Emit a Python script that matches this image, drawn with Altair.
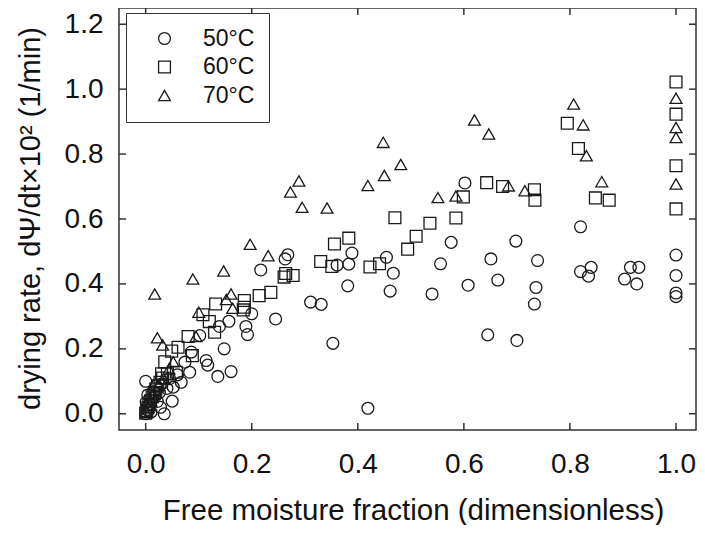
import altair as alt
import pandas as pd

series = ["50°C", "60°C", "70°C"]
shapes = ["circle", "square", "triangle-up"]

x50 = [0.000, 0.003, 0.006, 0.001, 0.008, 0.012, 0.004, 0.015, 0.018, 0.022, 0.000, 0.020,
       0.026, 0.030, 0.035, 0.040, 0.050, 0.052, 0.045, 0.067, 0.060, 0.083, 0.074, 0.086,
       0.010, 0.028, 0.102, 0.114, 0.117, 0.136, 0.161, 0.148, 0.139, 0.157, 0.189, 0.192,
       0.200, 0.245, 0.217, 0.263, 0.268, 0.311, 0.331, 0.353, 0.361, 0.383, 0.389, 0.381,
       0.419, 0.454, 0.467, 0.461, 0.540, 0.556, 0.576, 0.602, 0.608, 0.651, 0.664, 0.645,
       0.698, 0.700, 0.739, 0.736, 0.733, 0.820, 0.820, 0.840, 0.835, 0.903, 0.914, 0.930,
       0.926, 1.000, 1.000, 1.000, 1.000]
y50 = [0.000, 0.012, 0.022, 0.036, 0.032, 0.048, 0.058, 0.068, 0.055, 0.038, 0.100, 0.086,
       0.066, 0.092, 0.000, 0.078, 0.039, 0.082, 0.108, 0.097, 0.120, 0.128, 0.159, 0.190,
       0.005, 0.020, 0.241, 0.164, 0.150, 0.115, 0.130, 0.200, 0.269, 0.285, 0.269, 0.244,
       0.308, 0.292, 0.443, 0.477, 0.490, 0.344, 0.337, 0.217, 0.458, 0.461, 0.495, 0.394,
       0.017, 0.482, 0.433, 0.378, 0.369, 0.462, 0.528, 0.711, 0.396, 0.477, 0.412, 0.243,
       0.532, 0.226, 0.472, 0.389, 0.338, 0.576, 0.438, 0.451, 0.424, 0.415, 0.451, 0.451,
       0.400, 0.489, 0.426, 0.372, 0.361]

x60 = [0.000, 0.002, 0.004, 0.006, 0.009, 0.012, 0.016, 0.019, 0.023, 0.027, 0.032, 0.030,
       0.036, 0.041, 0.049, 0.058, 0.061, 0.080, 0.088, 0.108, 0.120, 0.130, 0.132, 0.186,
       0.186, 0.184, 0.214, 0.236, 0.261, 0.264, 0.278, 0.330, 0.351, 0.356, 0.383, 0.423,
       0.441, 0.470, 0.494, 0.510, 0.536, 0.585, 0.599, 0.643, 0.673, 0.733, 0.734, 0.795,
       0.816, 0.848, 0.874, 1.000, 1.000, 1.000, 1.000]
y60 = [0.002, 0.010, 0.018, 0.028, 0.040, 0.052, 0.063, 0.076, 0.086, 0.097, 0.110, 0.123,
       0.160, 0.123, 0.193, 0.128, 0.205, 0.238, 0.179, 0.305, 0.284, 0.251, 0.338, 0.349,
       0.328, 0.320, 0.364, 0.374, 0.421, 0.432, 0.426, 0.469, 0.454, 0.523, 0.541, 0.452,
       0.462, 0.604, 0.507, 0.547, 0.587, 0.603, 0.668, 0.712, 0.700, 0.690, 0.658, 0.895,
       0.817, 0.665, 0.658, 1.022, 0.923, 0.764, 0.631]

x70 = [0.001, 0.005, 0.010, 0.015, 0.024, 0.034, 0.044, 0.052, 0.017, 0.022, 0.032, 0.089,
       0.095, 0.100, 0.147, 0.152, 0.161, 0.164, 0.197, 0.231, 0.273, 0.289, 0.295, 0.342,
       0.419, 0.450, 0.448, 0.481, 0.551, 0.585, 0.620, 0.647, 0.684, 0.715, 0.807, 0.825,
       0.831, 0.860, 1.000, 1.000, 1.000, 1.000]
y70 = [0.004, 0.020, 0.040, 0.060, 0.088, 0.108, 0.138, 0.160, 0.369, 0.234, 0.212, 0.415,
       0.238, 0.313, 0.440, 0.352, 0.369, 0.325, 0.522, 0.487, 0.683, 0.717, 0.636, 0.634,
       0.703, 0.734, 0.836, 0.768, 0.666, 0.671, 0.905, 0.862, 0.702, 0.687, 0.954, 0.890,
       0.795, 0.715, 0.972, 0.882, 0.851, 0.708]

xticks = [0.0, 0.2, 0.4, 0.6, 0.8, 1.0]
yticks = [0.0, 0.2, 0.4, 0.6, 0.8, 1.0, 1.2]

x_title = "Free moisture fraction (dimensionless)"
y_title = "drying rate, dΨ/dt×10² (1/min)"

rows = []
for name, xs_, ys_ in zip(series, [x50, x60, x70], [y50, y60, y70]):
    rows += [{"x": a, "y": b, "temp": name} for a, b in zip(xs_, ys_)]
df = pd.DataFrame(rows)
xt = pd.DataFrame({"x": xticks})
yt = pd.DataFrame({"y": yticks})

W, H = 577, 422
TL = 7
FONT = "Liberation Sans, Arial, Helvetica, sans-serif"
INK = "#333333"

xsc = alt.Scale(domain=[-0.0503, 1.0377], nice=False, zero=False)
ysc = alt.Scale(domain=[-0.05, 1.25], nice=False, zero=False)

xaxis = alt.Axis(
    values=xticks, format=".1f", title=x_title, ticks=False, tickSize=0, domain=False, grid=False,
    labelFont=FONT, labelFontSize=28, labelColor="#111", labelPadding=42, labelBaseline="alphabetic",
    labelFlush=False, titleFont=FONT, titleFontSize=29.5, titleFontWeight="normal", titleColor="#111",
    titleBaseline="alphabetic", titleY=89, titleX=294)
yaxis = alt.Axis(
    values=yticks, format=".1f", title=y_title, ticks=False, tickSize=0, domain=False, grid=False,
    labelFont=FONT, labelFontSize=28, labelColor="#111", labelPadding=16, labelFlush=False,
    titleFont=FONT, titleFontSize=29, titleFontWeight="normal", titleColor="#111",
    titleX=-74, titleY=210, titleBaseline="bottom")

points = alt.Chart(df).mark_point(filled=False, strokeWidth=1.3, color="#1a1a1a", opacity=1, size=140).encode(
    x=alt.X("x:Q", scale=xsc, axis=xaxis),
    y=alt.Y("y:Q", scale=ysc, axis=yaxis),
    shape=alt.Shape("temp:N", scale=alt.Scale(domain=series, range=shapes), legend=alt.Legend(
        title=None, orient="none", legendX=7, legendY=5, padding=14, strokeColor=INK, fillColor="white",
        symbolOffset=13, labelOffset=27, labelFont=FONT, labelFontSize=23, labelColor="#111",
        symbolSize=140, symbolStrokeWidth=1.3, symbolStrokeColor="#1a1a1a", rowPadding=4.5, labelLimit=0)),
)

rule_style = dict(color=INK, strokeWidth=1.5)
left_ticks = alt.Chart(yt).mark_rule(**rule_style).encode(
    y=alt.Y("y:Q", scale=ysc, axis=yaxis), x=alt.value(0), x2=alt.value(TL))
right_ticks = alt.Chart(yt).mark_rule(**rule_style).encode(
    y=alt.Y("y:Q", scale=ysc, axis=yaxis), x=alt.value(W - TL), x2=alt.value(W))
bottom_ticks = alt.Chart(xt).mark_rule(**rule_style).encode(
    x=alt.X("x:Q", scale=xsc, axis=xaxis), y=alt.value(H - TL), y2=alt.value(H))
top_ticks = alt.Chart(xt).mark_rule(**rule_style).encode(
    x=alt.X("x:Q", scale=xsc, axis=xaxis), y=alt.value(0), y2=alt.value(TL))

chart = alt.layer(points, left_ticks, right_ticks, bottom_ticks, top_ticks).properties(
    width=W, height=H,
    autosize=alt.AutoSizeParams(type="none"),
    padding={"left": 111, "top": 0, "right": 1, "bottom": 95},
    background="white",
).configure_view(stroke=INK, strokeWidth=1.5)

chart.save("out.html", embed_options={"renderer": "svg", "actions": False})
